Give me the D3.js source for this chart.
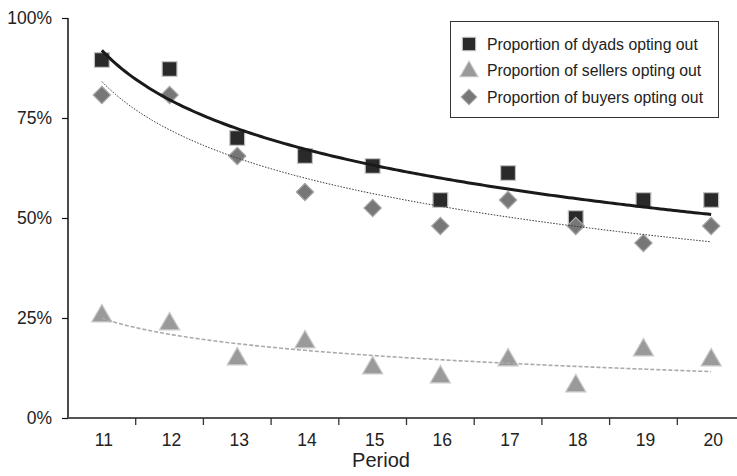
<!DOCTYPE html>
<html lang="en">
<head>
<meta charset="UTF-8">
<title>Proportion opting out by period</title>
<script src="https://d3js.org/d3.v7.min.js"></script>
<style>
  html, body { margin: 0; padding: 0; background: #fff; }
  svg { display: block; font-family: "Liberation Sans", Arial, sans-serif; }
</style>
</head>
<body>
<svg id="chart" width="737" height="476"></svg>
<script>
// data (percent)
const periods = [11, 12, 13, 14, 15, 16, 17, 18, 19, 20];
const dyads   = [89.5, 87.25, 70, 65.5, 63, 54.5, 61.25, 50, 54.5, 54.5];
const sellers = [25.75, 23.75, 15, 19.25, 12.75, 10.5, 14.75, 8.25, 17.25, 14.75];
const buyers  = [80.75, 80.75, 65.5, 56.5, 52.5, 48, 54.5, 48, 43.75, 48];
const yTicks  = [0, 25, 50, 75, 100];
const legendLabels = [
  "Proportion of dyads opting out",
  "Proportion of sellers opting out",
  "Proportion of buyers opting out"
];

const svg = d3.select("#chart");

const x = d3.scaleBand().domain(periods).range([68, 745]).padding(0);
const y = d3.scaleLinear().domain([0, 100]).range([418, 18]);
const cx = d => x(d) + x.bandwidth() / 2;

// y axis
const yAxis = svg.append("g")
  .attr("transform", "translate(68,0)")
  .call(d3.axisLeft(y).tickValues(yTicks).tickSize(6).tickPadding(10)
    .tickFormat(d => d + "%"));
yAxis.select(".domain").attr("stroke", "#111").attr("stroke-width", 1.5)
  .attr("d", "M0,18V418");
yAxis.selectAll(".tick line").attr("stroke", "#111").attr("stroke-width", 1.2);
yAxis.selectAll("text").attr("font-size", 17.5).attr("fill", "#222");

// x axis (labels centred, ticks on band boundaries)
const xAxis = svg.append("g")
  .attr("transform", "translate(0,418)")
  .call(d3.axisBottom(x).tickSize(0).tickPadding(16));
xAxis.select(".domain").attr("stroke", "#555").attr("stroke-width", 2.2)
  .attr("d", "M68,0H745");
xAxis.selectAll("text").attr("font-size", 17.5).attr("fill", "#222")
  .attr("dx", 2);
xAxis.selectAll(".bound")
  .data(periods.slice(1).map(p => x(p)).concat([x.range()[1]]))
  .join("line")
  .attr("class", "bound")
  .attr("x1", d => d).attr("x2", d => d)
  .attr("y1", 0).attr("y2", 7)
  .attr("stroke", "#333").attr("stroke-width", 1.3);

svg.append("text")
  .attr("x", 381).attr("y", 467)
  .attr("text-anchor", "middle")
  .attr("font-size", 20).attr("fill", "#222")
  .text("Period");

// logarithmic trend lines fitted to each series (like a spreadsheet trendline)
function logFit(vals) {
  const lx = vals.map((_, i) => Math.log(i + 1));
  const mx = d3.mean(lx), my = d3.mean(vals);
  const b = d3.sum(lx, (v, i) => (v - mx) * (vals[i] - my)) / d3.sum(lx, v => (v - mx) ** 2);
  const a = my - b * mx;
  return t => a + b * Math.log(t);
}
const xi = d3.scaleLinear().domain([1, periods.length])
  .range([cx(periods[0]), cx(periods[periods.length - 1])]);
const steps = d3.range(1, periods.length + 0.001, 0.05);

function trend(vals, style) {
  const f = logFit(vals);
  svg.append("path")
    .attr("fill", "none")
    .attr("d", d3.line().x(t => xi(t)).y(t => y(f(t)))(steps))
    .attr("stroke", style.stroke)
    .attr("stroke-width", style.width)
    .attr("stroke-dasharray", style.dash || null);
}

// markers
const sym = {
  square:   { d: d3.symbol().type(d3.symbolSquare).size(220)(), rot: 0 },
  triangle: { d: d3.symbol().type(d3.symbolTriangle).size(175)(), rot: 0 },
  diamond:  { d: d3.symbol().type(d3.symbolSquare).size(150)(), rot: 45 }
};

function points(vals, shape, fill, stroke, dy) {
  svg.append("g").selectAll("path")
    .data(vals)
    .join("path")
    .attr("transform", (d, i) =>
      `translate(${cx(periods[i])},${y(d) + (dy || 0)}) rotate(${sym[shape].rot})`)
    .attr("d", sym[shape].d)
    .attr("fill", fill)
    .attr("stroke", stroke)
    .attr("stroke-width", 1.2);
}

points(sellers, "triangle", "#9a9a9a", "#c8c8c8", 1);
points(dyads, "square", "#2a2a2a", "#c4c4c4");
points(buyers, "diamond", "#777", "#a8a8a8");

trend(sellers, { stroke: "#aaa", width: 1.6, dash: "4,2" });
trend(buyers, { stroke: "#333", width: 1, dash: "1.5,1.5" });
trend(dyads, { stroke: "#1a1a1a", width: 3 });

// legend
const lg = svg.append("g");
lg.append("rect")
  .attr("x", 450.5).attr("y", 21.5).attr("width", 268).attr("height", 96)
  .attr("fill", "#fff").attr("stroke", "#333").attr("stroke-width", 1);
const legendShapes = [
  ["square", "#2a2a2a", "#c4c4c4"],
  ["triangle", "#9a9a9a", "#c8c8c8"],
  ["diamond", "#777", "#a8a8a8"]
];
legendLabels.forEach((lab, i) => {
  const yy = 44 + i * 26.5;
  const s = legendShapes[i];
  lg.append("path")
    .attr("transform", `translate(469,${yy + (s[0] === "triangle" ? 1 : 0)}) rotate(${sym[s[0]].rot}) scale(0.9)`)
    .attr("d", sym[s[0]].d)
    .attr("fill", s[1]).attr("stroke", s[2]).attr("stroke-width", 1.2);
  lg.append("text")
    .attr("x", 487).attr("y", yy).attr("dy", "0.35em")
    .attr("font-size", 15.8).attr("fill", "#222")
    .text(lab);
});
</script>
</body>
</html>
